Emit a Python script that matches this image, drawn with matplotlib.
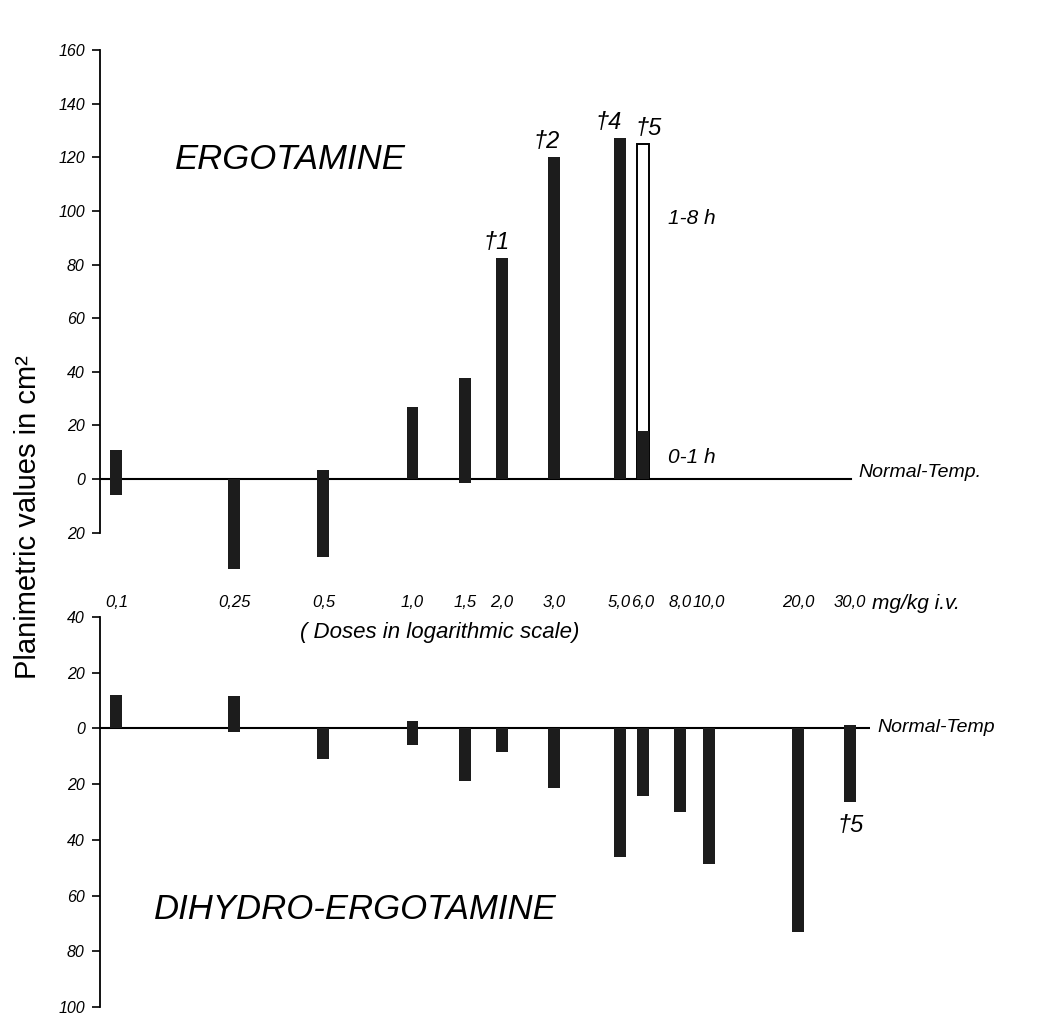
import numpy as np
import matplotlib.pyplot as plt

plt.rcParams['font.family'] = ['Liberation Sans', 'DejaVu Sans']

# doses (mg/kg i.v.)
erg_doses = [0.1, 0.25, 0.5, 1.0, 1.5, 2.0, 3.0, 5.0, 6.0]
erg_top = [11, 0, 3.5, 27, 37.5, 82.5, 120, 127, 18]
erg_bottom = [-6, -33.5, -29, 0, -1.5, 0, 0, 0, 0]
erg_late_dose = [6.0]
erg_late_top = [125]          # 1-8 h value for the 6,0 dose
death_doses = [2.0, 3.0, 5.0, 6.0]
death_labels = ['†1', '†2', '†4', '†5']
death_tops = [82.5, 120, 127, 125]

dhe_doses = [0.1, 0.25, 0.5, 1.0, 1.5, 2.0, 3.0, 5.0, 6.0, 8.0, 10.0, 20.0, 30.0]
dhe_top = [12, 11.5, 0, 2.6, 0, 0, 0, 0, 0, 0, 0, 0, 1.2]
dhe_bottom = [0, -1.2, -10.8, -6, -19, -8.5, -21.4, -46, -24.4, -30, -48.5, -73, -26.3]

tick_doses = [0.1, 0.25, 0.5, 1.0, 1.5, 2.0, 3.0, 5.0, 6.0, 8.0, 10.0, 20.0, 30.0]
tick_labels = ['0,1', '0,25', '0,5', '1,0', '1,5', '2,0', '3,0', '5,0', '6,0', '8,0', '10,0', '20,0', '30,0']

bar_col = '#1c1c1c'
hw = 0.02  # half bar width in decades


def log_bars(ax, doses, bottoms, tops, **kw):
    d = np.array(doses, dtype=float)
    left = d * 10 ** (-hw)
    width = d * 10 ** hw - left
    b = np.array(bottoms, dtype=float)
    bars = ax.bar(left, np.array(tops) - b, width=width, bottom=b, align='edge', **kw)
    for p in bars:
        p.set_clip_on(False)


def style_axis(ax, ylo, yhi):
    ax.set_xscale('log')
    ax.set_xlim(0.0881, 35.0)
    ax.set_ylim(ylo, yhi)
    ax.patch.set_visible(False)
    for s in ['top', 'right', 'bottom']:
        ax.spines[s].set_visible(False)
    ax.spines['left'].set_linewidth(1.3)
    yt = np.arange(ylo, yhi + 1, 20)
    ax.set_yticks(yt)
    ax.set_yticklabels([str(abs(int(v))) for v in yt], fontstyle='italic', fontsize=11.5)
    ax.tick_params(axis='y', direction='out', length=6, width=1.2, pad=5)
    ax.minorticks_off()


fig = plt.figure(figsize=(10.4, 10.14), dpi=100)
ax1 = fig.add_axes([0.0962, 0.4747, 0.7403, 0.4760])
ax2 = fig.add_axes([0.0962, 0.0069, 0.7403, 0.3846])

# ---- Ergotamine ----
style_axis(ax1, -20, 160)
ax1.axhline(0, xmax=0.975, color='black', lw=1.5, zorder=1)
log_bars(ax1, erg_late_dose, [0], erg_late_top, color='white', edgecolor='black', linewidth=1.4, zorder=2)
log_bars(ax1, erg_doses, erg_bottom, erg_top, color=bar_col, zorder=3)
ax1.set_xticks(tick_doses)
ax1.set_xticklabels(tick_labels, fontstyle='italic', fontsize=12)
ax1.tick_params(axis='x', length=0, pad=45)
ax1.xaxis.set_minor_locator(plt.NullLocator())
# small nudges so the death marks sit like in the drawing
nudges = [-4, -5, -8, 4]
for d, lab, t, dx in zip(death_doses, death_labels, death_tops, nudges):
    ax1.annotate(lab, (d, t), xytext=(dx, 3), textcoords='offset points',
                 ha='center', va='bottom', fontsize=17, fontstyle='italic')
ax1.text(erg_late_dose[0] * 10 ** 0.085, 97, '1-8 h', ha='left', va='center', fontsize=15, fontstyle='italic')
ax1.text(erg_late_dose[0] * 10 ** 0.085, 8, '0-1 h', ha='left', va='center', fontsize=15, fontstyle='italic')
ax1.text(0.985, 2.5, 'Normal-Temp.', transform=ax1.get_yaxis_transform(), ha='left', va='center',
         fontsize=14, fontstyle='italic', clip_on=False)
ax1.text(0.247, 0.773, 'ERGOTAMINE', transform=ax1.transAxes, fontsize=25, fontstyle='italic',
         ha='center', va='center')

# ---- Dihydro-Ergotamine ----
style_axis(ax2, -100, 40)
ax2.set_xticks([])
ax2.axhline(0, color='black', lw=1.5, zorder=1)
log_bars(ax2, dhe_doses, dhe_bottom, dhe_top, color=bar_col, zorder=3)
ax2.text(dhe_doses[-1], -35, '†5', ha='center', va='center', fontsize=17, fontstyle='italic')
ax2.text(1.01, 0.5, 'Normal-Temp', transform=ax2.get_yaxis_transform(), ha='left', va='center',
         fontsize=14, fontstyle='italic', clip_on=False)
ax2.text(0.331, 0.25, 'DIHYDRO-ERGOTAMINE', transform=ax2.transAxes, fontsize=25, fontstyle='italic',
         ha='center', va='center')

# shared labels
fig.text(0.838, 0.405, 'mg/kg i.v.', fontsize=15, fontstyle='italic', ha='left', va='center')
fig.text(0.423, 0.376, '( Doses in logarithmic scale)', fontsize=16, fontstyle='italic', ha='center', va='center')
fig.text(0.027, 0.49, 'Planimetric values in cm²', rotation=90, fontsize=21, ha='center', va='center')

fig.savefig('out.png', dpi=100)
